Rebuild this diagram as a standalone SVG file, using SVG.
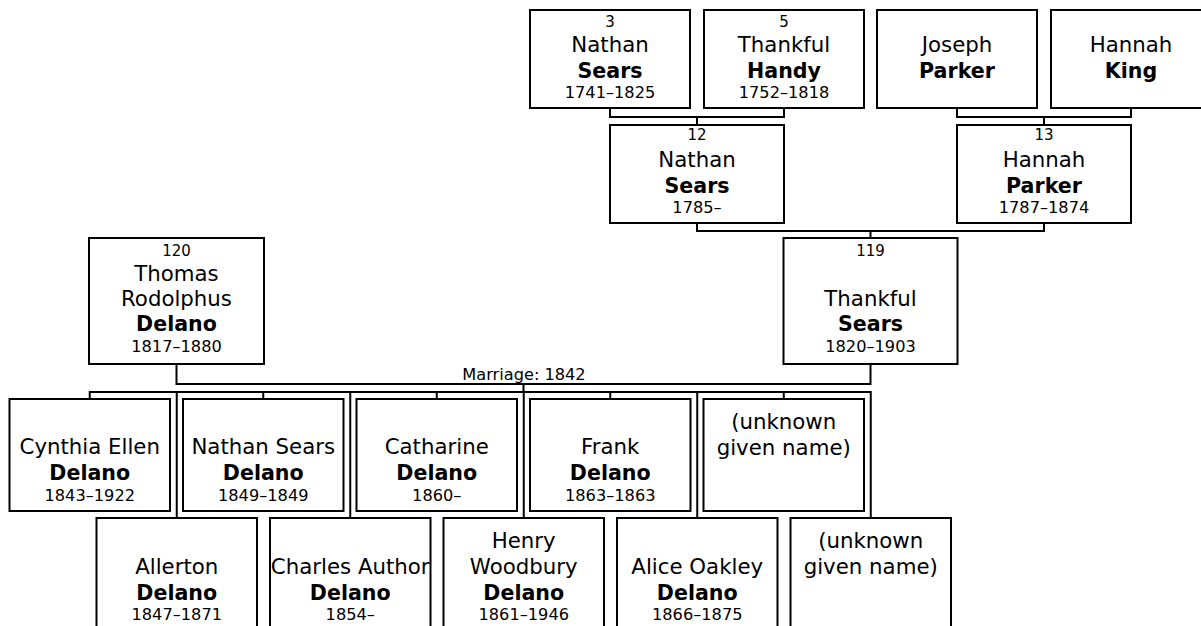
<svg xmlns="http://www.w3.org/2000/svg" width="1201" height="626" viewBox="0 0 1201 626">
<style>
.box{fill:#fff;stroke:#000;stroke-width:2}
.con{fill:none;stroke:#000;stroke-width:2}
text{font-family:"DejaVu Sans","Verdana",sans-serif;fill:#000;text-anchor:middle}
.num{font-size:15px}
.gn{font-size:21.3px}
.sn{font-size:20.6px;font-weight:bold}
.dt{font-size:16.2px}
.lbl{font-size:16.2px}
</style>
<rect width="1201" height="626" fill="#fff"/>
<g id="connectors">
<path class="con" d="M610,108V117H784V108M697,117V125"/>
<path class="con" d="M957,108V117H1131V108M1044,117V125"/>
<path class="con" d="M697,223V231H1044V223M870.5,231V239"/>
<path class="con" d="M176.5,364V384H870.5V364M523.5,384V392"/>
<path class="con" d="M89.75,399V392H870.75V518"/>
<path class="con" d="M263.25,392V399M436.75,392V399M610.25,392V399M783.75,392V399"/>
<path class="con" d="M176.75,392V518M350.25,392V518M523.75,392V518M697.25,392V518"/>
<text class="lbl" x="524" y="380">Marriage: 1842</text>
</g>
<g id="p3">
<rect class="box" x="530" y="10" width="160" height="98"/>
<text class="num" x="610" y="26.5">3</text>
<text class="gn" x="610" y="52">Nathan</text>
<text class="sn" x="610" y="78">Sears</text>
<text class="dt" x="610" y="98">1741–1825</text>
</g>
<g id="p5">
<rect class="box" x="704" y="10" width="160" height="98"/>
<text class="num" x="784" y="26.5">5</text>
<text class="gn" x="784" y="52">Thankful</text>
<text class="sn" x="784" y="78">Handy</text>
<text class="dt" x="784" y="98">1752–1818</text>
</g>
<g id="josephParker">
<rect class="box" x="877" y="10" width="160" height="98"/>
<text class="gn" x="957" y="52">Joseph</text>
<text class="sn" x="957" y="78">Parker</text>
</g>
<g id="hannahKing">
<rect class="box" x="1051" y="10" width="160" height="98"/>
<text class="gn" x="1131" y="52">Hannah</text>
<text class="sn" x="1131" y="78">King</text>
</g>
<g id="p12">
<rect class="box" x="610" y="125" width="174" height="98"/>
<text class="num" x="697" y="140">12</text>
<text class="gn" x="697" y="166.5">Nathan</text>
<text class="sn" x="697" y="193">Sears</text>
<text class="dt" x="697" y="213">1785–</text>
</g>
<g id="p13">
<rect class="box" x="957" y="125" width="174" height="98"/>
<text class="num" x="1044" y="140">13</text>
<text class="gn" x="1044" y="166.5">Hannah</text>
<text class="sn" x="1044" y="193">Parker</text>
<text class="dt" x="1044" y="213">1787–1874</text>
</g>
<g id="p120">
<rect class="box" x="89" y="238" width="175" height="126"/>
<text class="num" x="176.5" y="256">120</text>
<text class="gn" x="176.5" y="280.5">Thomas</text>
<text class="gn" x="176.5" y="306">Rodolphus</text>
<text class="sn" x="176.5" y="331">Delano</text>
<text class="dt" x="176.5" y="351.5">1817–1880</text>
</g>
<g id="p119">
<rect class="box" x="783.5" y="238" width="174" height="126"/>
<text class="num" x="870.5" y="256">119</text>
<text class="gn" x="870.5" y="306">Thankful</text>
<text class="sn" x="870.5" y="331">Sears</text>
<text class="dt" x="870.5" y="351.5">1820–1903</text>
</g>
<g id="cynthia">
<rect class="box" x="9.5" y="399" width="160.5" height="112"/>
<text class="gn" x="89.75" y="454">Cynthia Ellen</text>
<text class="sn" x="89.75" y="480">Delano</text>
<text class="dt" x="89.75" y="500.5">1843–1922</text>
</g>
<g id="nathanSears">
<rect class="box" x="183" y="399" width="160.5" height="112"/>
<text class="gn" x="263.25" y="454">Nathan Sears</text>
<text class="sn" x="263.25" y="480">Delano</text>
<text class="dt" x="263.25" y="500.5">1849–1849</text>
</g>
<g id="catharine">
<rect class="box" x="356.5" y="399" width="160.5" height="112"/>
<text class="gn" x="436.75" y="454">Catharine</text>
<text class="sn" x="436.75" y="480">Delano</text>
<text class="dt" x="436.75" y="500.5">1860–</text>
</g>
<g id="frank">
<rect class="box" x="530" y="399" width="160.5" height="112"/>
<text class="gn" x="610.25" y="454">Frank</text>
<text class="sn" x="610.25" y="480">Delano</text>
<text class="dt" x="610.25" y="500.5">1863–1863</text>
</g>
<g id="unknown1">
<rect class="box" x="703.5" y="399" width="160.5" height="112"/>
<text class="gn" x="783.75" y="428.5">(unknown</text>
<text class="gn" x="783.75" y="454.5">given name)</text>
</g>
<g id="allerton">
<rect class="box" x="96.5" y="518" width="160.5" height="112"/>
<text class="gn" x="176.75" y="573.5">Allerton</text>
<text class="sn" x="176.75" y="599.5">Delano</text>
<text class="dt" x="176.75" y="620">1847–1871</text>
</g>
<g id="charles">
<rect class="box" x="270" y="518" width="160.5" height="112"/>
<text class="gn" x="350.25" y="573.5">Charles Author</text>
<text class="sn" x="350.25" y="599.5">Delano</text>
<text class="dt" x="350.25" y="620">1854–</text>
</g>
<g id="henry">
<rect class="box" x="443.5" y="518" width="160.5" height="112"/>
<text class="gn" x="523.75" y="547.5">Henry</text>
<text class="gn" x="523.75" y="573.5">Woodbury</text>
<text class="sn" x="523.75" y="599.5">Delano</text>
<text class="dt" x="523.75" y="620">1861–1946</text>
</g>
<g id="alice">
<rect class="box" x="617" y="518" width="160.5" height="112"/>
<text class="gn" x="697.25" y="573.5">Alice Oakley</text>
<text class="sn" x="697.25" y="599.5">Delano</text>
<text class="dt" x="697.25" y="620">1866–1875</text>
</g>
<g id="unknown2">
<rect class="box" x="790.5" y="518" width="160.5" height="112"/>
<text class="gn" x="870.75" y="547.5">(unknown</text>
<text class="gn" x="870.75" y="573.5">given name)</text>
</g>
</svg>
